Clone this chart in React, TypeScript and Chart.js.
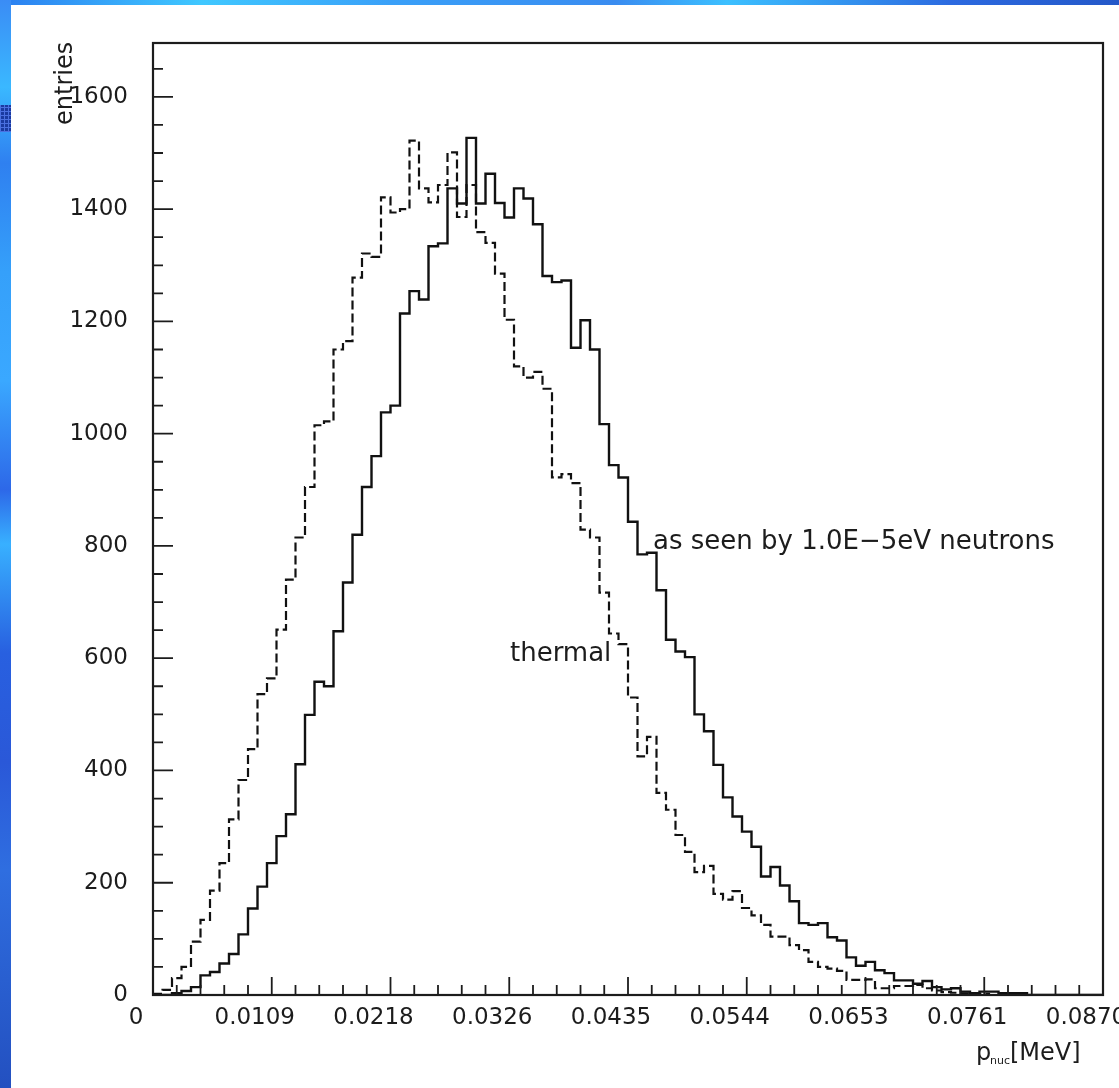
import React, { useEffect, useRef } from "react";
import { Chart, registerables } from "chart.js";

Chart.register(...registerables);

// ---- data ----
const X_MAX = 0.087;
const N_BINS = 100;
const Y_MAX = 1696;

const xTickValues = [0, 0.010875, 0.02175, 0.032625, 0.0435, 0.054375, 0.06525, 0.076125, 0.087];
const xTickLabels = ["0", "0.0109", "0.0218", "0.0326", "0.0435", "0.0544", "0.0653", "0.0761", "0.0870"];
const yTickValues = [0, 200, 400, 600, 800, 1000, 1200, 1400, 1600];
const X_MINOR_PER_MAJOR = 5;
const Y_MINOR_STEP = 50;

// "as seen by 1.0E-5eV neutrons" (solid)
const neutronCounts = [
  0, 0, 3, 7, 14, 35, 41, 56, 73, 108,
  154, 193, 235, 283, 322, 411, 499, 558, 550, 648,
  735, 820, 905, 960, 1038, 1050, 1214, 1254, 1239, 1334,
  1339, 1437, 1410, 1527, 1410, 1463, 1411, 1385, 1437, 1419,
  1373, 1281, 1270, 1273, 1153, 1202, 1150, 1017, 944, 922,
  843, 785, 788, 721, 633, 612, 602, 500, 470, 410,
  352, 318, 291, 264, 211, 228, 195, 167, 128, 125,
  128, 103, 97, 67, 52, 59, 44, 39, 26, 26,
  20, 25, 14, 10, 12, 6, 3, 6, 6, 3,
  3, 3, 0, 0, 0, 0, 0, 0, 0, 0,
];

// "thermal" (dashed)
const thermalCounts = [
  2, 9, 30, 50, 95, 134, 186, 235, 313, 383,
  438, 536, 564, 651, 740, 815, 905, 1015, 1022, 1150,
  1165, 1278, 1321, 1315, 1421, 1394, 1400, 1522, 1437, 1412,
  1443, 1501, 1386, 1443, 1359, 1340, 1285, 1203, 1120, 1100,
  1110, 1080, 922, 928, 912, 829, 815, 717, 644, 625,
  530, 425, 460, 360, 330, 285, 255, 219, 230, 180,
  170, 185, 155, 142, 125, 104, 104, 89, 80, 59,
  50, 47, 43, 27, 27, 28, 12, 12, 16, 16,
  18, 12, 8, 5, 4, 3, 2, 2, 0, 0,
  0, 0, 0, 0, 0, 0, 0, 0, 0, 0,
];

const annotations = [
  { text: "as seen by 1.0E\u22125eV neutrons", x: 0.04579, y: 800 },
  { text: "thermal", x: 0.03269, y: 600 },
];

// ---- helpers ----
const FONT = "'DejaVu Sans', 'Liberation Sans', sans-serif";
const INK = "#1c1c1c";

function stepPoints(values: number[]) {
  const w = X_MAX / N_BINS;
  const pts = values.map((v, i) => ({ x: i * w, y: v }));
  pts.push({ x: N_BINS * w, y: values[values.length - 1] });
  return pts;
}

const framePlugin = {
  id: "pawFrame",
  afterDatasetsDraw(chart: any) {
    const { ctx, chartArea, scales } = chart;
    const { left, right, top, bottom } = chartArea;
    const xs = scales.x;
    const ys = scales.y;
    ctx.save();
    ctx.strokeStyle = INK;
    ctx.lineWidth = 2.2;
    ctx.strokeRect(left, top, right - left, bottom - top);
    ctx.lineWidth = 1.8;
    ctx.beginPath();
    const nMinor = (xTickValues.length - 1) * X_MINOR_PER_MAJOR;
    for (let k = 0; k <= nMinor; k++) {
      const px = xs.getPixelForValue((X_MAX * k) / nMinor);
      const len = k % X_MINOR_PER_MAJOR === 0 ? 18 : 10;
      ctx.moveTo(px, bottom);
      ctx.lineTo(px, bottom - len);
    }
    for (let v = 0; v <= Y_MAX; v += Y_MINOR_STEP) {
      const py = ys.getPixelForValue(v);
      const len = v % 200 === 0 ? 20 : 10;
      ctx.moveTo(left, py);
      ctx.lineTo(left + len, py);
    }
    ctx.stroke();

    ctx.fillStyle = INK;
    ctx.textBaseline = "alphabetic";
    ctx.textAlign = "left";
    ctx.font = `26px ${FONT}`;
    for (const a of annotations) {
      ctx.fillText(a.text, xs.getPixelForValue(a.x), ys.getPixelForValue(a.y) + 3);
    }

    // y title
    ctx.save();
    ctx.translate(72, 125);
    ctx.rotate(-Math.PI / 2);
    ctx.font = `24px ${FONT}`;
    ctx.fillText("entries", 0, 0);
    ctx.restore();

    // x title  p_nuc[MeV]
    ctx.font = `24px ${FONT}`;
    ctx.fillText("p", 976, 1060);
    ctx.font = `11px ${FONT}`;
    ctx.fillText("nuc", 990, 1064);
    ctx.font = `24px ${FONT}`;
    ctx.fillText("[MeV]", 1010, 1060);
    ctx.restore();
  },
};

export default function App() {
  const ref = useRef<HTMLCanvasElement | null>(null);

  useEffect(() => {
    if (!ref.current) return;
    const chart = new Chart(ref.current, {
      type: "line",
      data: {
        datasets: [
          {
            label: "as seen by 1.0E-5eV neutrons",
            data: stepPoints(neutronCounts),
            borderColor: "#111",
            borderWidth: 2.4,
            pointRadius: 0,
            stepped: true,
            fill: false,
          },
          {
            label: "thermal",
            data: stepPoints(thermalCounts),
            borderColor: "#111",
            borderWidth: 2.2,
            borderDash: [9, 4],
            pointRadius: 0,
            stepped: true,
            fill: false,
          },
        ],
      },
      options: {
        animation: false,
        responsive: false,
        layout: { padding: { top: 43, right: 16, left: 0, bottom: 0 } },
        plugins: { legend: { display: false }, tooltip: { enabled: false } },
        scales: {
          x: {
            type: "linear",
            min: 0,
            max: X_MAX,
            grid: { display: false, drawTicks: false },
            border: { display: false },
            afterBuildTicks: (s: any) => {
              s.ticks = xTickValues.map((v) => ({ value: v }));
            },
            afterFit: (s: any) => {
              s.height = 93;
              s.paddingLeft = 0;
              s.paddingRight = 0;
            },
            ticks: {
              autoSkip: false,
              maxRotation: 0,
              minRotation: 0,
              padding: 9,
              labelOffset: -17,
              color: INK,
              font: { family: FONT, size: 23 },
              callback: (_v: any, i: number) => xTickLabels[i],
            },
          },
          y: {
            type: "linear",
            min: 0,
            max: Y_MAX,
            grid: { display: false, drawTicks: false },
            border: { display: false },
            afterBuildTicks: (s: any) => {
              s.ticks = yTickValues.map((v) => ({ value: v }));
            },
            afterFit: (s: any) => {
              s.width = 153;
            },
            ticks: {
              padding: 25,
              color: INK,
              font: { family: FONT, size: 23 },
              callback: (v: any) => String(v),
            },
          },
        },
      },
      plugins: [framePlugin],
    });
    return () => chart.destroy();
  }, []);

  return (
    <div style={{ position: "absolute", left: 0, top: 0, width: 1119, height: 1088, background: "#fff", overflow: "hidden" }}>
      <div
        style={{
          position: "absolute", left: 0, top: 0, width: 1119, height: 5,
          background: "linear-gradient(90deg, #2a7ef0 0%, #40c8ff 18%, #3aa0f8 35%, #3a8cf0 55%, #3cc0ff 65%, #2c6ae0 85%, #2458c8 100%)",
        }}
      />
      <div
        style={{
          position: "absolute", left: 0, top: 0, width: 11, height: 1088,
          background: "linear-gradient(180deg, #3a8cf5 0%, #3ab8ff 8%, #2f80f0 15%, #35a0fa 25%, #3aa8ff 35%, #2d68e8 45%, #38b0ff 50%, #2860e0 60%, #2a58d8 70%, #2f6ee0 80%, #2350c0 100%)",
        }}
      />
      <div
        style={{
          position: "absolute", left: 0, top: 105, width: 11, height: 27,
          backgroundColor: "#1a3aa0",
          backgroundImage: "repeating-linear-gradient(90deg, #4a70e0 0 1px, transparent 1px 4px), repeating-linear-gradient(0deg, #4a70e0 0 1px, transparent 1px 4px)",
        }}
      />
      <canvas ref={ref} width={1119} height={1088} style={{ position: "absolute", left: 0, top: 0 }} />
    </div>
  );
}
